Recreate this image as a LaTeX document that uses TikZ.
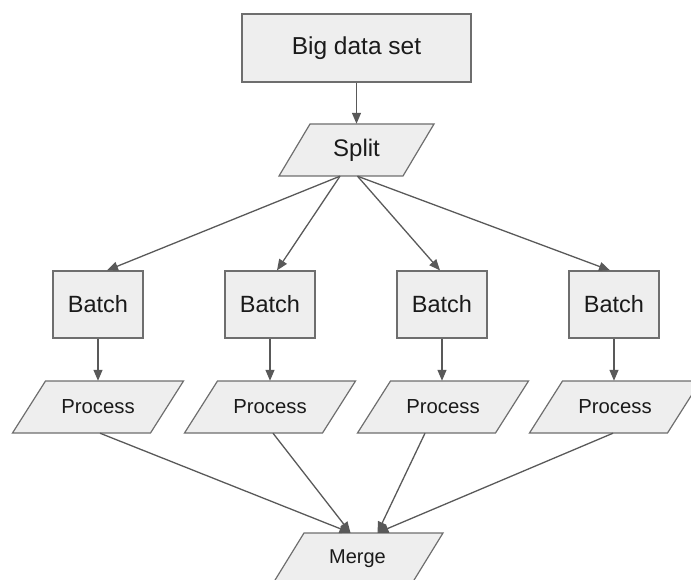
\documentclass[tikz,border=0pt]{standalone}
\usepackage{fontspec}
\setmainfont{Liberation Sans}
\usetikzlibrary{arrows.meta}

\definecolor{boxfill}{HTML}{EEEEEE}
\definecolor{boxline}{HTML}{6E6E6E}
\definecolor{arrowcol}{HTML}{595959}
\definecolor{textcol}{HTML}{1A1A1A}

\tikzset{
  shapeline/.style={draw=boxline, fill=boxfill, line width=1.2pt, line join=miter},
  boxnode/.style={shapeline, rectangle, inner sep=0pt, text=textcol},
  bigbox/.style={boxnode, minimum width=229pt, minimum height=68pt, font=\fontsize{24.5}{28}\selectfont},
  batchbox/.style={boxnode, minimum width=90pt, minimum height=67pt, font=\fontsize{23.5}{28}\selectfont},
  paratext/.style={rectangle, inner sep=0pt, minimum height=52pt, text=textcol},
  arr/.style={draw=arrowcol, line width=1.3pt, -{Triangle[length=11pt,width=9pt]}}
}

% parallelogram: name, centre x, centre y, half edge width, slant offset, font size, text
\newcommand\paranode[7]{%
  \filldraw[shapeline] (#2-#4-#5, #3+26) -- (#2+#4-#5, #3+26)
    -- (#2+#4+#5, #3-26) -- (#2-#4+#5, #3-26) -- cycle;
  \node[paratext, minimum width=2*#4 pt, font=\fontsize{#6}{#6}\selectfont] (#1) at (#2,#3) {#7};
}

\begin{document}
\begin{tikzpicture}[x=1pt, y=-1pt]
  \useasboundingbox (0,0) rectangle (691,580);
  \clip (0,0) rectangle (691,580);

  % source data and splitter
  \node[bigbox] (big) at (356.5,48) {Big data set};
  \paranode{split}{356.5}{150}{62}{15.5}{24}{Split}

  % batches
  \node[batchbox] (b1) at (98,304.5)  {Batch};
  \node[batchbox] (b2) at (270,304.5) {Batch};
  \node[batchbox] (b3) at (442,304.5) {Batch};
  \node[batchbox] (b4) at (614,304.5) {Batch};

  % processing steps
  \paranode{p1}{98}{407}{69}{16.5}{20.3}{Process}
  \paranode{p2}{270}{407}{69}{16.5}{20.3}{Process}
  \paranode{p3}{443}{407}{69}{16.5}{20.3}{Process}
  \paranode{p4}{615}{407}{69}{16.5}{20.3}{Process}

  % merge step
  \paranode{merge}{357.5}{559}{69.5}{16}{20}{Merge}

  % connectors
  \draw[arr] (big.south) -- (split.north);

  \draw[arr] ([xshift=-16.5pt]split.south) -- ([xshift=9pt]b1.north);
  \draw[arr] ([xshift=-16.5pt]split.south) -- ([xshift=7pt]b2.north);
  \draw[arr] ([xshift=1pt]split.south) -- ([xshift=-2pt]b3.north);
  \draw[arr] ([xshift=1pt]split.south) -- ([xshift=-4pt]b4.north);

  \draw[arr] (b1.south) -- (p1.north);
  \draw[arr] (b2.south) -- (p2.north);
  \draw[arr] (b3.south) -- ([xshift=-1pt]p3.north);
  \draw[arr] (b4.south) -- ([xshift=-1pt]p4.north);

  \draw[arr] ([xshift=2pt]p1.south)   -- ([xshift=-7pt]merge.north);
  \draw[arr] ([xshift=3pt]p2.south)   -- ([xshift=-7pt]merge.north);
  \draw[arr] ([xshift=-18pt]p3.south) -- ([xshift=20pt]merge.north);
  \draw[arr] ([xshift=-2pt]p4.south)  -- ([xshift=20pt]merge.north);
\end{tikzpicture}
\end{document}
